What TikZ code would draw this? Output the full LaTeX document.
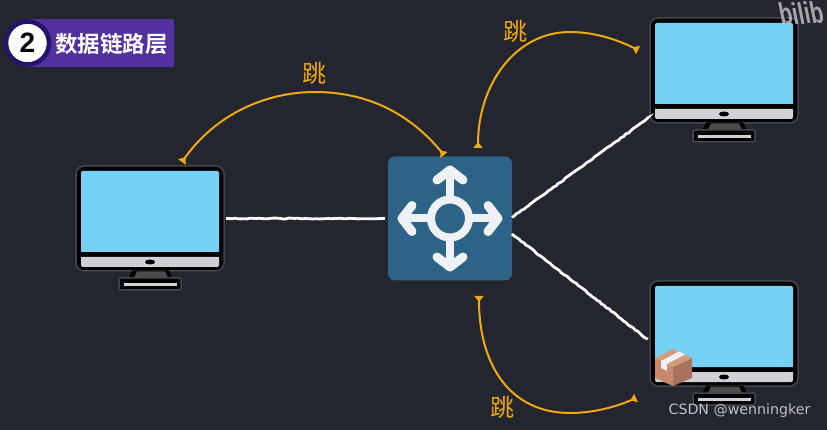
\documentclass[tikz,border=0pt]{standalone}
\usepackage{fontspec}
\setsansfont{Liberation Sans}
\newfontfamily\cjk{Noto Sans CJK SC}
\newfontfamily\cjkbold{Noto Sans CJK SC Bold}
\usetikzlibrary{arrows.meta}
\usetikzlibrary{decorations.pathmorphing}
\definecolor{bgdark}{HTML}{23252F}
\definecolor{screenblue}{HTML}{75D2F5}
\definecolor{chinlight}{HTML}{D2D0D6}
\definecolor{switchblue}{HTML}{2E6388}
\definecolor{switchwhite}{HTML}{EEF1F5}
\definecolor{hoporange}{HTML}{F2A90F}
\definecolor{badgepurple}{HTML}{5230A0}
\definecolor{badgedark}{HTML}{24136A}
\definecolor{boxleft}{HTML}{C8896C}
\definecolor{boxright}{HTML}{A9725C}
\definecolor{boxtop}{HTML}{D39B7C}
\tikzset{
	pc node/.style={minimum width=148pt,minimum height=105pt,inner sep=0pt,outer sep=0pt},
	switch node/.style={fill=switchblue,rounded corners=7pt,minimum size=124pt,inner sep=0pt,outer sep=0pt},
	chalk/.style={draw=white,line width=2.8pt,shorten >=3pt,decorate,decoration={random steps,segment length=3pt,amplitude=.5pt}},
	hop/.style={draw=hoporange,line width=2pt,{Triangle[reversed,width=9pt,length=6pt]}-{Triangle[reversed,width=9pt,length=6pt]}},
	hop label/.style={text=hoporange,font=\cjk\fontsize{24}{24}\selectfont,inner sep=0pt},
	switch mark/.style={draw=switchwhite,line width=8pt,line cap=round,line join=round},
	pics/monitor/.style={code={
		% halo, body, screen, chin
		\fill[black,draw=white!15!bgdark,line width=1.5pt,rounded corners=8pt] (-74,-52.5) rectangle (74,52.5);
		\fill[screenblue,rounded corners=2pt] (-69,-47.5) rectangle (69,33.5);
		\fill[screenblue] (-69,25) rectangle (69,33.5);
		\fill[chinlight,rounded corners=2pt] (-69,38.5) rectangle (69,48.5);
		\fill[chinlight] (-69,38.5) rectangle (69,43);
		\fill[black] (0,43.5) ellipse (5pt and 2.5pt);
		% stand
		\fill[black] (-18,52) -- (19,52) -- (23,60) -- (-22,60) -- cycle;
		\fill[white!30!black] (-13,53) -- (15,53) -- (18,59.5) -- (-16,59.5) -- cycle;
		\fill[black,draw=white!15!bgdark,line width=1.5pt,rounded corners=2pt] (-31,59.5) rectangle (31,71.5);
		\fill[chinlight] (-26,64.5) rectangle (27,67.5);
	}}
}
\begin{document}
\begin{tikzpicture}[x=1pt,y=-1pt]
	\useasboundingbox[fill=bgdark] (0,0) rectangle (827,430);

	% computers and the switch
	\node [pc node] (pc1) at (150,218.5) {};
	\node [pc node] (pc2) at (724,70.5) {};
	\node [pc node] (pc3) at (724,333.5) {};
	\node [switch node] (sw) at (450,218.5) {};
	\pic at (pc1.center) {monitor};
	\pic at (pc2.center) {monitor};
	\pic at (pc3.center) {monitor};

	% arrows in the switch
	\draw [switch mark] (450,218.5) circle (19pt);
	\draw [switch mark,line cap=butt] (450,199.5) -- (450,170);
	\draw [switch mark,line cap=butt] (450,237.5) -- (450,267);
	\draw [switch mark,line cap=butt] (431,218.5) -- (402,218.5);
	\draw [switch mark,line cap=butt] (469,218.5) -- (498,218.5);
	\draw [switch mark,line width=9pt] (437,180) -- (450,170) -- (463,180);
	\draw [switch mark,line width=9pt] (437,257) -- (450,267) -- (463,257);
	\draw [switch mark,line width=9pt] (412,205.5) -- (402,218.5) -- (412,231.5);
	\draw [switch mark,line width=9pt] (488,205.5) -- (498,218.5) -- (488,231.5);

	% links
	\draw [chalk] (pc1.east) ++(2,0) -- (sw.west);
	\draw [chalk] (sw.1) -- (pc2.212);
	\draw [chalk] (sw.-14) -- (pc3.186);

	% hops
	\coordinate (hop1) at (444,155);
	\coordinate (hop2) at (182,162);
	\coordinate (hop3) at (478,148);
	\coordinate (hop4) at (638,50);
	\coordinate (hop5) at (479,296);
	\coordinate (hop6) at (636,398);
	\draw [hop] (hop1) .. controls (405,108) and (360,92) .. (315,92) .. controls (265,92) and (215,115) .. (hop2);
	\draw [hop] (hop3) .. controls (478,85) and (515,32) .. (570,32) .. controls (595,32) and (618,40) .. (hop4);
	\draw [hop] (hop5) .. controls (479,365) and (510,413) .. (570,413) .. controls (595,413) and (618,406) .. (hop6);
	\node [hop label] (jump1) at (314,73) {跳};
	\node [hop label] (jump2) at (515,31) {跳};
	\node [hop label] (jump3) at (502,407) {跳};

	% badge
	\fill [badgepurple] (28,19) rectangle (174,67);
	\node [circle,fill=white,draw=badgedark,line width=4.5pt,minimum size=43pt,inner sep=0pt,font=\sffamily\bfseries\fontsize{28}{28}\selectfont] (badge) at (27.5,43) {2};
	\node [text=white,inner sep=0pt,font=\cjkbold\fontsize{22.5}{22.5}\selectfont] (title) at (111.5,44) {数据链路层};

	% parcel
	\fill [boxleft] (655,358) -- (673,367) -- (673,386) -- (655,378) -- cycle;
	\fill [boxright] (692,358) -- (673,367) -- (673,386) -- (692,378) -- cycle;
	\fill [boxtop] (655,358) -- (673,349) -- (692,358) -- (673,367) -- cycle;
	\fill [switchwhite] (661,361) -- (679,351.5) -- (685,354.5) -- (667,364) -- (667,371) -- (661,368) -- cycle;

	% watermarks
	\node [text=white!75!bgdark,opacity=.8,xslant=-.2,yslant=.04,xscale=.72,inner sep=0pt,anchor=base west,font=\sffamily\bfseries\fontsize{30}{30}\selectfont] (logo) at (781,25) {bilib};
	\node [text=white!72!bgdark,inner sep=0pt,font=\fontspec{DejaVu Sans}\fontsize{14.2}{14.2}\selectfont] (csdn) at (739.5,410.5) {CSDN @wenningker};
\end{tikzpicture}
\end{document}
